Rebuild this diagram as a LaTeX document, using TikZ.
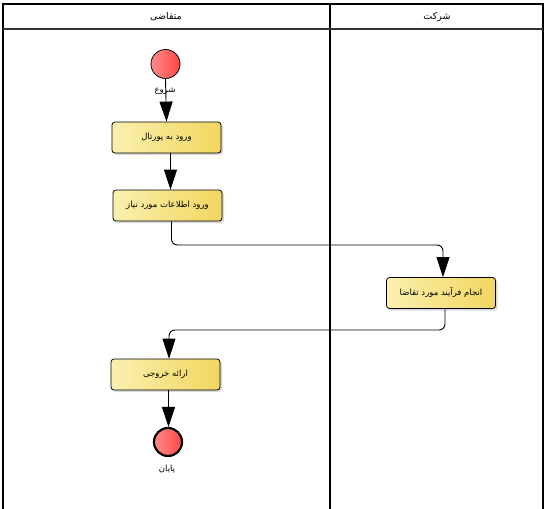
\documentclass[tikz,border=0pt]{standalone}
\usepackage{fontspec}
\newfontfamily\arabicfont[Script=Arabic]{DejaVu Sans}
\TeXXeTstate=1
\usetikzlibrary{arrows.meta,shadows}
\definecolor{actL}{RGB}{250,240,175}
\definecolor{actR}{RGB}{242,214,95}
\definecolor{evL}{RGB}{255,140,140}
\definecolor{evR}{RGB}{255,70,70}
\tikzset{
  act/.style={draw=black, line width=0.8pt, rounded corners=3pt, minimum width=109pt, minimum height=31pt,
    left color=actL, right color=actR,
    drop shadow={shadow xshift=2pt, shadow yshift=-2pt, fill=black!25, opacity=0.6},
    font=\arabicfont\fontsize{8.5}{10}\selectfont},
  evstart/.style={circle, draw=black, line width=0.8pt, minimum size=29pt, inner sep=0pt,
    left color=evL, right color=evR},
  evend/.style={circle, draw=black, line width=2.2pt, minimum size=28pt, inner sep=0pt,
    left color=evL, right color=evR},
  lbl/.style={font=\arabicfont\fontsize{8.5}{10}\selectfont, inner sep=1pt},
  hdr/.style={font=\arabicfont\fontsize{9.5}{11}\selectfont},
  flow/.style={draw=black, line width=0.9pt, rounded corners=6pt, -{Triangle[width=13pt,length=20pt]}},
  lane/.style={draw=black, line width=1.3pt}
}
\begin{document}
\begin{tikzpicture}[x=1pt,y=-1pt]
\useasboundingbox (0,0) rectangle (547,509);
% pool frame
\draw[lane] (3,509) -- (3,4) -- (543,4) -- (543,509);
\draw[lane] (330,4) -- (330,509);
\draw[draw=black!80, line width=1.2pt] (3,29) -- (543,29);
\node[hdr] (h1) at (166,17) {\beginR متقاضی\endR};
\node[hdr] (h2) at (437,17) {\beginR شرکت\endR};
% nodes
\node[evstart] (s) at (165.5,64) {};
\node[lbl] (sl) at (165,91) {\beginR شروع\endR};
\node[act] (a1) at (166.5,137.5) {\beginR ورود به پورتال\endR};
\node[act] (a2) at (167.5,205.5) {\beginR ورود اطلاعات مورد نیاز\endR};
\node[act] (a3) at (441,293) {\beginR انجام فرآیند مورد تقاضا\endR};
\node[act] (a4) at (165.5,374.5) {\beginR ارائه خروجی\endR};
\node[evend] (e) at (168,442) {};
\node[lbl] (el) at (167,469) {\beginR پایان\endR};
% flows
\draw[flow] (s.south) -- (a1.north);
\draw[flow] ([xshift=4pt]a1.south) -- ([xshift=4pt]a1.south |- a2.north);
\draw[flow] ([xshift=4pt]a2.south) |- (443,245) -- (443,245 |- a3.north);
\draw[flow] ([xshift=4pt]a3.south) |- (169,330) -- (169,330 |- a4.north);
\draw[flow] ([xshift=3pt]a4.south) -- ([xshift=3pt]a4.south |- e.north);
\end{tikzpicture}
\end{document}
